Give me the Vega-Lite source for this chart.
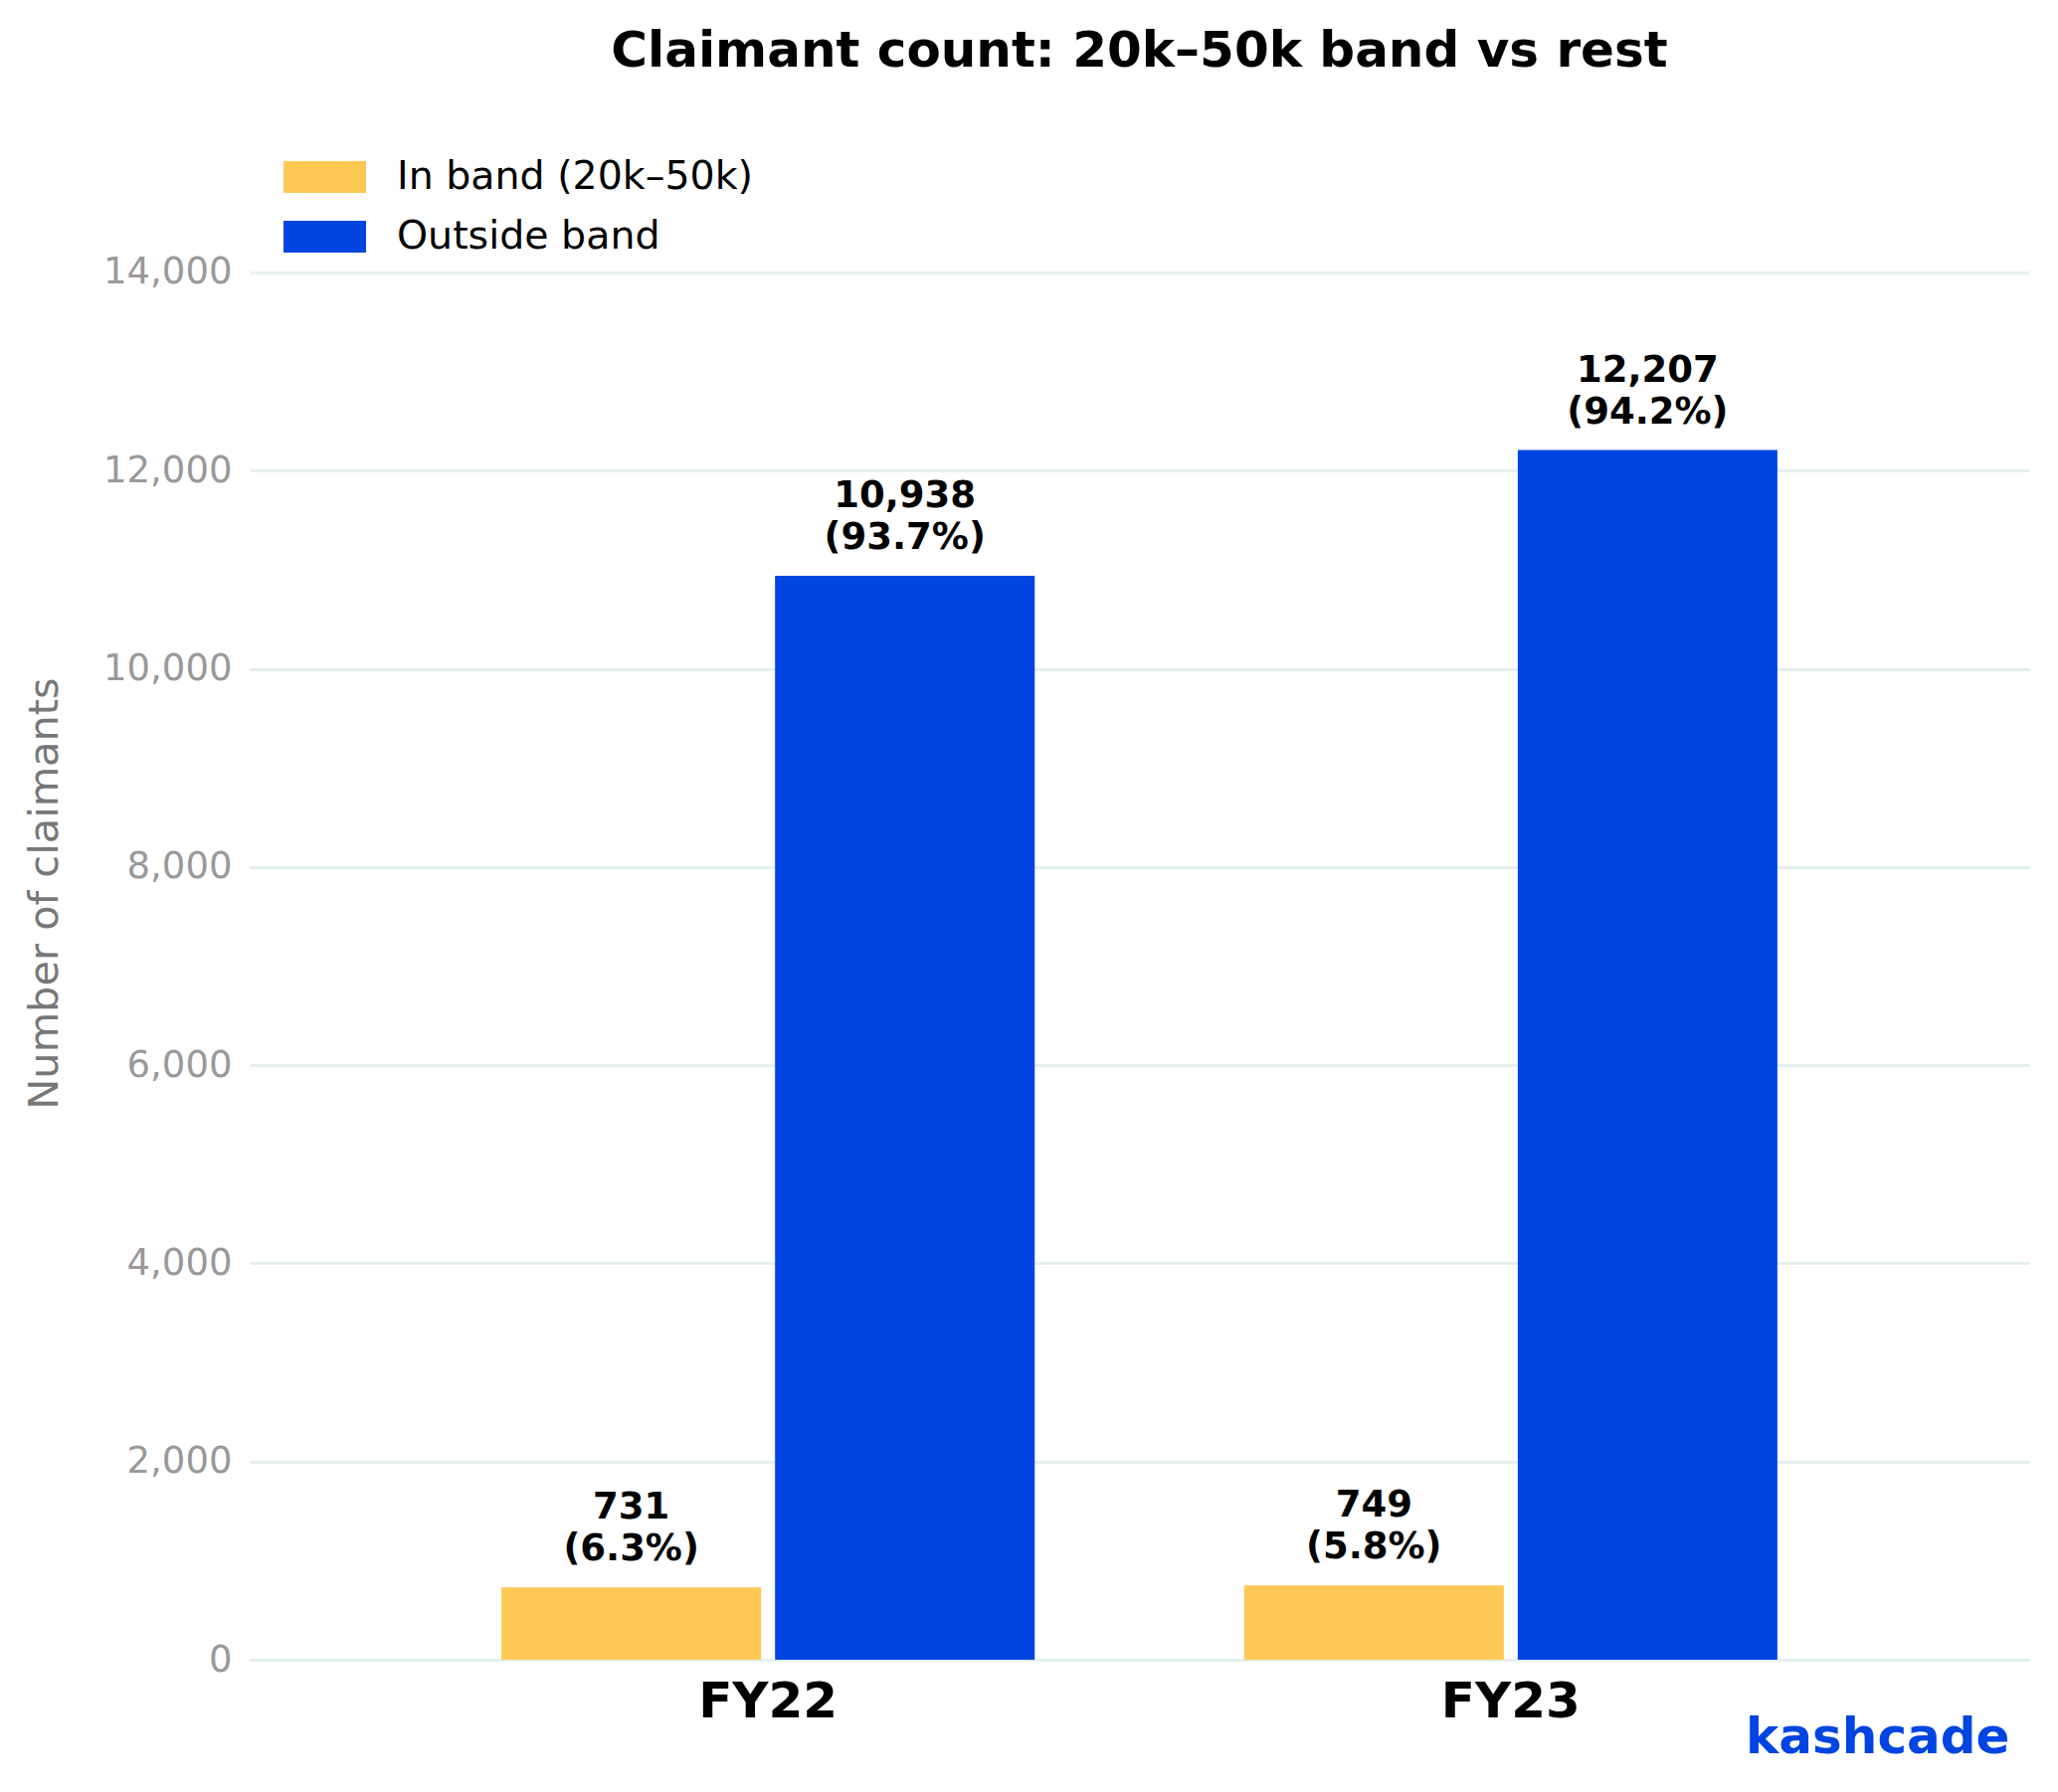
{
  "$schema": "https://vega.github.io/schema/vega-lite/v6.json",
  "width": 1789,
  "height": 1557,
  "autosize": {"type": "none"},
  "padding": {"left": 251, "top": 112, "right": 29, "bottom": 133},
  "background": "white",
  "title": {
    "text": "Claimant count: 20k–50k band vs rest",
    "fontSize": 50,
    "fontWeight": "bold",
    "font": "DejaVu Sans",
    "color": "black",
    "anchor": "middle",
    "baseline": "alphabetic",
    "offset": 40,
    "dy": 45
  },
  "data": {
    "values": [
      {"year": "FY22", "group": "In band (20k–50k)", "count": 731, "label": "731\n(6.3%)"},
      {"year": "FY22", "group": "Outside band", "count": 10938, "label": "10,938\n(93.7%)"},
      {"year": "FY23", "group": "In band (20k–50k)", "count": 749, "label": "749\n(5.8%)"},
      {"year": "FY23", "group": "Outside band", "count": 12207, "label": "12,207\n(94.2%)"}
    ]
  },
  "encoding": {
    "x": {
      "field": "year",
      "type": "nominal",
      "scale": {"paddingInner": 0.282, "paddingOuter": 0.339},
      "axis": {
        "title": "kashcade",
        "titleFontSize": 50,
        "titleFontWeight": "bold",
        "titleColor": "#0044E1",
        "titleFont": "DejaVu Sans",
        "titleAnchor": "end",
        "titleAlign": "right",
        "titleX": 1769,
        "titleY": 93,
        "titleBaseline": "alphabetic",
        "labelAngle": 0,
        "labelFontSize": 50,
        "labelFontWeight": "bold",
        "labelColor": "black",
        "labelFont": "DejaVu Sans",
        "labelPadding": 17,
        "ticks": false,
        "domain": false,
        "grid": false
      }
    },
    "xOffset": {
      "field": "group",
      "type": "nominal",
      "scale": {"paddingInner": 0.051, "paddingOuter": 0}
    },
    "y": {
      "field": "count",
      "type": "quantitative",
      "scale": {"domain": [0, 15625], "nice": false},
      "axis": {
        "title": "Number of claimants",
        "titleFontSize": 41.5,
        "titleFontWeight": "normal",
        "titleColor": "#777777",
        "titleFont": "DejaVu Sans",
        "titlePadding": 37,
        "titleY": 786,
        "values": [0, 2000, 4000, 6000, 8000, 10000, 12000, 14000],
        "format": ",d",
        "labelFontSize": 37,
        "labelColor": "#999999",
        "labelFont": "DejaVu Sans",
        "labelPadding": 18,
        "ticks": false,
        "domain": false,
        "grid": true,
        "gridColor": "#E6EFF0",
        "gridWidth": 3
      }
    }
  },
  "layer": [
    {
      "mark": {"type": "bar"},
      "encoding": {
        "color": {
          "field": "group",
          "type": "nominal",
          "scale": {
            "domain": ["In band (20k–50k)", "Outside band"],
            "range": ["#FDC854", "#0044E1"]
          },
          "legend": {
            "title": null,
            "orient": "none",
            "legendX": 34,
            "legendY": 36,
            "symbolType": "M-1,-0.385H1V0.385H-1Z",
            "symbolSize": 6889,
            "symbolStrokeWidth": 0,
            "symbolOpacity": 1,
            "labelFontSize": 39.5,
            "labelFont": "DejaVu Sans",
            "labelColor": "black",
            "labelOffset": 31,
            "labelLimit": 0,
            "clipHeight": 60,
            "rowPadding": 0,
            "padding": 0
          }
        }
      }
    },
    {
      "mark": {
        "type": "text",
        "baseline": "bottom",
        "align": "center",
        "dy": -61,
        "lineBreak": "\n",
        "lineHeight": 42,
        "fontSize": 37,
        "fontWeight": "bold",
        "font": "DejaVu Sans",
        "color": "black"
      },
      "encoding": {
        "text": {"field": "label", "type": "nominal"}
      }
    }
  ],
  "config": {
    "view": {"stroke": null},
    "font": "DejaVu Sans"
  }
}
